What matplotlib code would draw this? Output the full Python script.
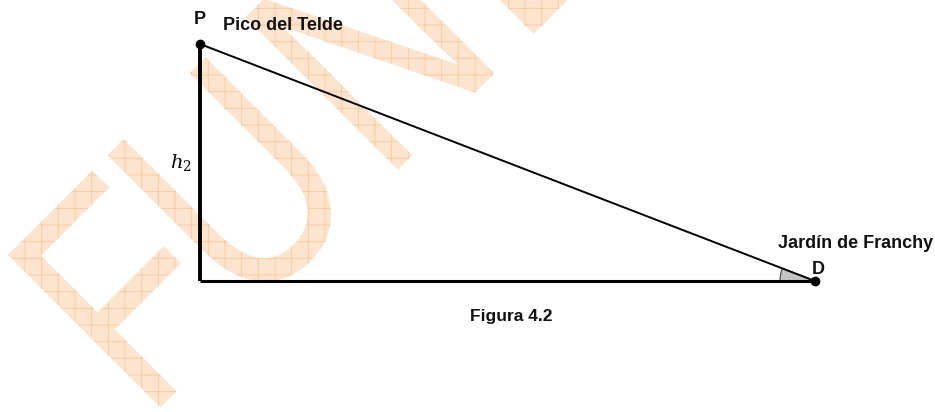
import matplotlib.pyplot as plt
from matplotlib.patches import PathPatch, Wedge
from matplotlib.textpath import TextPath
from matplotlib.font_manager import FontProperties
from matplotlib.transforms import Affine2D
import numpy as np

# triangle: P (peak), right-angle corner, D (observer)
base_len = 615
height = 237
tri_x = [0, 0, base_len]
tri_y = [height, 0, 0]
point_names = ['P', 'D']
place_names = ['Pico del Telde', 'Jardín de Franchy']
side_label = r'$h_2$'
caption = 'Figura 4.2'
watermark = 'FUND'

plt.rcParams['hatch.linewidth'] = 0.6

fig = plt.figure(figsize=(9.35, 4.12), dpi=100)
ax = fig.add_axes([0, 0, 1, 1])
ax.set_xlim(-200, 735)
ax.set_ylim(-131, 281)
ax.set_aspect('equal')
ax.axis('off')

# watermark letters (rotated 45 deg, narrow, hatched orange)
wm_prop = FontProperties(family='Liberation Sans')
em, sx = 313, 0.78
wm_shift = [0, 141, 336, 528]  # where each letter starts along the text line
scale = Affine2D().scale(em * sx, em)
cap = scale.transform_path(TextPath((0, 0), 'F', size=1, prop=wm_prop)).get_extents().y1
place = Affine2D().translate(0, -cap).rotate_deg(45).translate(-192, 26)
for ch, off in zip(watermark, wm_shift):
    p = scale.transform_path(TextPath((0, 0), ch, size=1, prop=wm_prop))
    p = Affine2D().translate(off - p.get_extents().x0, 0).transform_path(p)
    ax.add_patch(PathPatch(place.transform_path(p), facecolor='#fde4cf',
                           edgecolor='#fbc898', lw=0, hatch='+', zorder=0))

# sides
ax.plot(tri_x[:2], tri_y[:2], color='black', lw=2.8, solid_capstyle='butt', zorder=3)
ax.plot(tri_x[1:], tri_y[1:], color='black', lw=2.2, solid_capstyle='butt', zorder=3)
ax.plot([tri_x[0], tri_x[2]], [tri_y[0], tri_y[2]], color='black', lw=1.4, zorder=3)

# angle at D
ang = np.degrees(np.arctan2(tri_y[0] - tri_y[2], tri_x[0] - tri_x[2]))
ax.add_patch(Wedge((tri_x[2], tri_y[2]), 35, ang, 180, facecolor='#c4c4c4',
                   edgecolor='#444444', lw=0.8, zorder=2))

# points
ax.plot([tri_x[0], tri_x[2]], [tri_y[0], tri_y[2]], 'o', color='black', ms=6, zorder=4)

txt = dict(family='Liberation Sans', fontweight='bold', fontsize=13, color='#111111')
ax.text(tri_x[0], tri_y[0] + 25, point_names[0], ha='center', va='center', **txt)
ax.text(tri_x[0] + 23, tri_y[0] + 19, place_names[0], ha='left', va='center', **txt)
ax.text(tri_x[2] + 3, tri_y[2] + 12, point_names[1], ha='center', va='center', **txt)
ax.text(tri_x[2] - 37, tri_y[2] + 37, place_names[1], ha='left', va='center', **txt)
ax.text(tri_x[0] - 19, height / 2, side_label, ha='center', va='center',
        fontsize=14, math_fontfamily='dejavuserif')
ax.text(base_len / 2 + 4, -36, caption, ha='center', va='center',
        **{**txt, 'fontsize': 12.5})

fig.savefig('out.png', dpi=100)
